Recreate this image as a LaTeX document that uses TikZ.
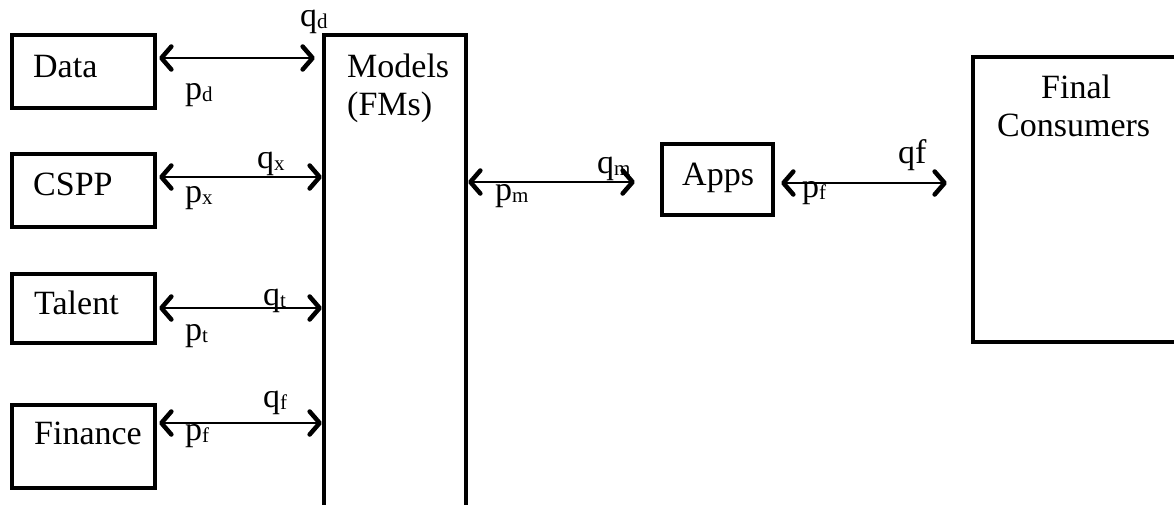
\documentclass[tikz,border=0pt]{standalone}
\usepackage{fontspec}
\setmainfont{Liberation Serif}
\usetikzlibrary{arrows.meta}
\newcommand{\sbx}[1]{\raisebox{-2pt}{\fontsize{21}{21}\selectfont #1}}
\tikzset{
  box/.style={draw, line width=4.2pt, inner sep=0pt},
  txt/.style={anchor=base west, inner sep=0pt, font=\fontsize{34}{38}\selectfont},
  barb/.tip={Straight Barb[length=10pt,width=23pt,line width=4.5pt,round]},
  conn/.style={line width=2.2pt, barb-barb},
}
\begin{document}
\begin{tikzpicture}[x=1pt,y=-1pt]
\useasboundingbox (0,0) rectangle (1174,504);
% boxes
\node[box, minimum width=143pt, minimum height=73pt] (data) at (83.5,71.5) {};
\node[box, minimum width=143pt, minimum height=73pt] (cspp) at (83.5,190.5) {};
\node[box, minimum width=143pt, minimum height=69pt] (talent) at (83.5,308.5) {};
\node[box, minimum width=143pt, minimum height=83pt] (finance) at (83.5,446.5) {};
\node[box, minimum width=142pt, minimum height=525pt] (models) at (395,297.5) {};
\node[box, minimum width=111pt, minimum height=71pt] (apps) at (717.5,179.5) {};
\node[box, minimum width=203pt, minimum height=285pt] (final) at (1074.5,199.5) {};
% box texts
\node[txt] (tdata) at (33,77) {Data};
\node[txt] (tcspp) at (33,195) {CSPP};
\node[txt] (ttalent) at (34,314) {Talent};
\node[txt] (tfinance) at (34,444) {Finance};
\node[txt] (tmodels) at (347,77) {Models};
\node[txt] (tfms) at (347,115) {(FMs)};
\node[txt] (tapps) at (682,185) {Apps};
\node[txt] (tfinal) at (1041,98) {Final};
\node[txt] (tcons) at (997,136) {Consumers};
% connectors
\draw[conn, shorten <=2pt, shorten >=7pt] ([yshift=13.5pt]data.east) -- ([yshift=13.5pt]data.east -| models.west);
\draw[conn, shorten <=2pt] ([yshift=13.5pt]cspp.east) -- ([yshift=13.5pt]cspp.east -| models.west);
\draw[conn, shorten <=2pt] ([yshift=0.5pt]talent.east) -- ([yshift=0.5pt]talent.east -| models.west);
\draw[conn, shorten <=2pt] ([yshift=23.5pt]finance.east) -- ([yshift=23.5pt]finance.east -| models.west);
\draw[conn, shorten >=25pt] ([yshift=-2.5pt]apps.west -| models.east) -- ([yshift=-2.5pt]apps.west);
\draw[conn, shorten <=6pt, shorten >=24pt] ([yshift=-3.5pt]apps.east) -- ([yshift=-3.5pt]apps.east -| final.west);
% labels
\node[txt] (lqd) at (300,26) {q\sbx{d}};
\node[txt] (lpd) at (185,99) {p\sbx{d}};
\node[txt] (lqx) at (257,168) {q\sbx{x}};
\node[txt] (lpx) at (185,202) {p\sbx{x}};
\node[txt] (lqt) at (263,305) {q\sbx{t}};
\node[txt] (lpt) at (185,340) {p\sbx{t}};
\node[txt] (lqf) at (263,407) {q\sbx{f}};
\node[txt] (lpf) at (185,440) {p\sbx{f}};
\node[txt] (lqm) at (597,173) {q\sbx{m}};
\node[txt] (lpm) at (495,200) {p\sbx{m}};
\node[txt] (lqff) at (898,163) {qf};
\node[txt] (lpff) at (802,197) {p\sbx{f}};
\end{tikzpicture}
\end{document}
